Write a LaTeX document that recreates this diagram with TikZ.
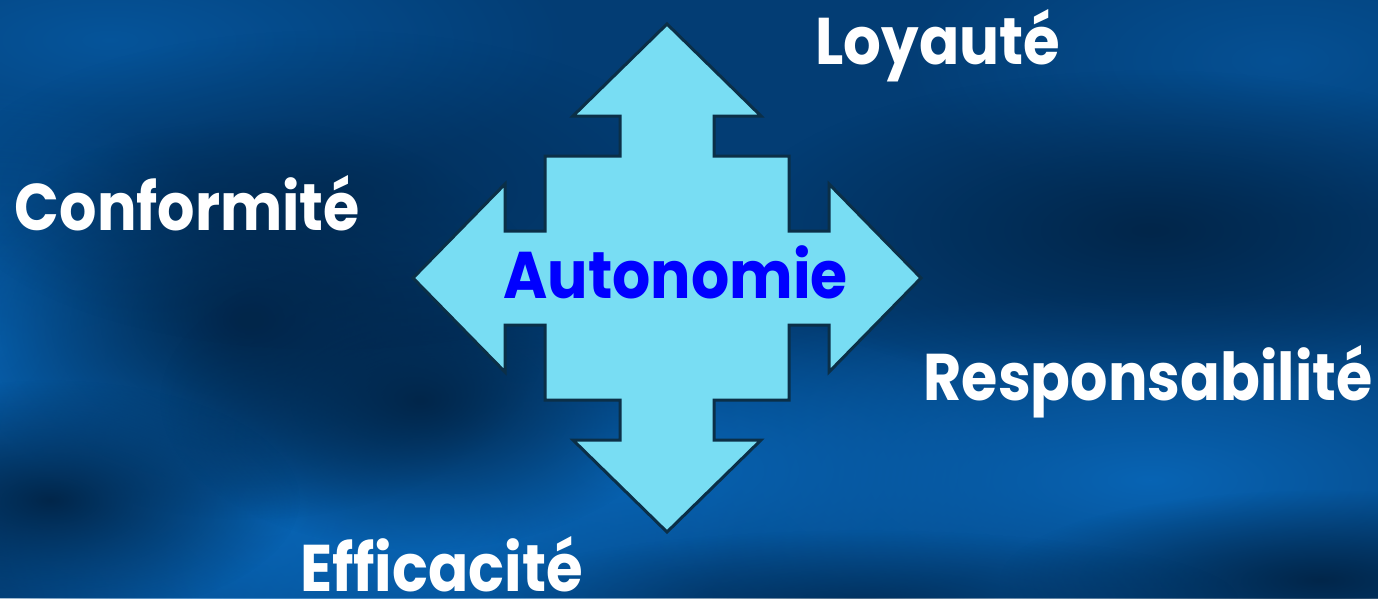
\documentclass[tikz,border=0pt]{standalone}
\usepackage{fontspec}
\setmainfont{Poppins}
\usetikzlibrary{fadings}
\tikzfading[name=softblob, inner color=transparent!0, outer color=transparent!100]
\definecolor{bgbase}{HTML}{033D74}
\definecolor{bgdark}{HTML}{01264A}
\definecolor{bglight}{HTML}{0864B4}
\definecolor{arrowfill}{HTML}{78DDF3}
\definecolor{arrowline}{HTML}{0B2F47}
\definecolor{autoblue}{HTML}{0000FF}
\newcommand{\narrowtxt}[2]{\scalebox{#1}[1]{#2}}
\tikzset{
  label/.style={text=white, font=\fontsize{66}{66}\selectfont\bfseries, inner sep=0pt, anchor=base, text depth=0pt},
  center/.style={text=autoblue, font=\fontsize{66}{66}\selectfont\bfseries, inner sep=0pt, anchor=base},
  cross/.style={fill=arrowfill, draw=arrowline, line width=3pt, line join=miter},
  blob/.style={fill=#1, path fading=softblob}
}
\begin{document}
\begin{tikzpicture}[x=1pt,y=-1pt]
\useasboundingbox (0,0) rectangle (1378,598);
% background
\fill[bgbase] (0,0) rectangle (1378,598);
\begin{scope}
\clip (0,0) rectangle (1378,598);
\fill[blob=bglight] (0,350) ellipse (260 and 260);
\fill[blob=bglight] (130,440) ellipse (260 and 240);
\fill[blob=bglight] (270,510) ellipse (280 and 220);
\fill[blob=bglight] (440,520) ellipse (300 and 180);
\fill[blob=bglight] (640,470) ellipse (440 and 160);
\fill[blob=bglight] (1150,480) ellipse (560 and 190);
\fill[blob=bglight, opacity=0.6] (110,40) ellipse (460 and 160);
\fill[blob=bglight, opacity=0.5] (1280,60) ellipse (380 and 160);
\fill[blob=bgdark] (250,320) ellipse (300 and 200);
\fill[blob=bgdark] (420,400) ellipse (260 and 150);
\fill[blob=bgdark] (50,500) ellipse (250 and 120);
\fill[blob=bgdark] (1150,230) ellipse (420 and 160);
\fill[blob=bgdark] (1320,580) ellipse (320 and 90);
\fill[blob=bgdark, opacity=0.6] (330,190) ellipse (380 and 160);
\fill[blob=bgdark, opacity=0.6] (860,600) ellipse (380 and 70);
\end{scope}
% four-way arrow
\draw[cross, shift={(667,278)}]
  (0,-254) -- (94,-162) -- (47,-162) -- (47,-122) -- (122,-122) -- (122,-47)
  -- (162,-47) -- (162,-94) -- (254,0) -- (162,94) -- (162,47) -- (122,47)
  -- (122,122) -- (47,122) -- (47,162) -- (94,162) -- (0,254) -- (-94,162)
  -- (-47,162) -- (-47,122) -- (-122,122) -- (-122,47) -- (-162,47) -- (-162,94)
  -- (-254,0) -- (-162,-94) -- (-162,-47) -- (-122,-47) -- (-122,-122)
  -- (-47,-122) -- (-47,-162) -- (-94,-162) -- cycle;
\node[center] (auto) at (675.5,298) {\narrowtxt{0.91}{Autonomie}};
\node[label] (loy) at (938,64) {\narrowtxt{0.9}{Loyauté}};
\node[label] (conf) at (187.5,230) {\narrowtxt{0.89}{Conformité}};
\node[label] (resp) at (1148,400) {\narrowtxt{0.89}{Responsabilité}};
\node[label] (eff) at (441.5,591) {\narrowtxt{0.9}{Efficacité}};
\end{tikzpicture}
\end{document}
